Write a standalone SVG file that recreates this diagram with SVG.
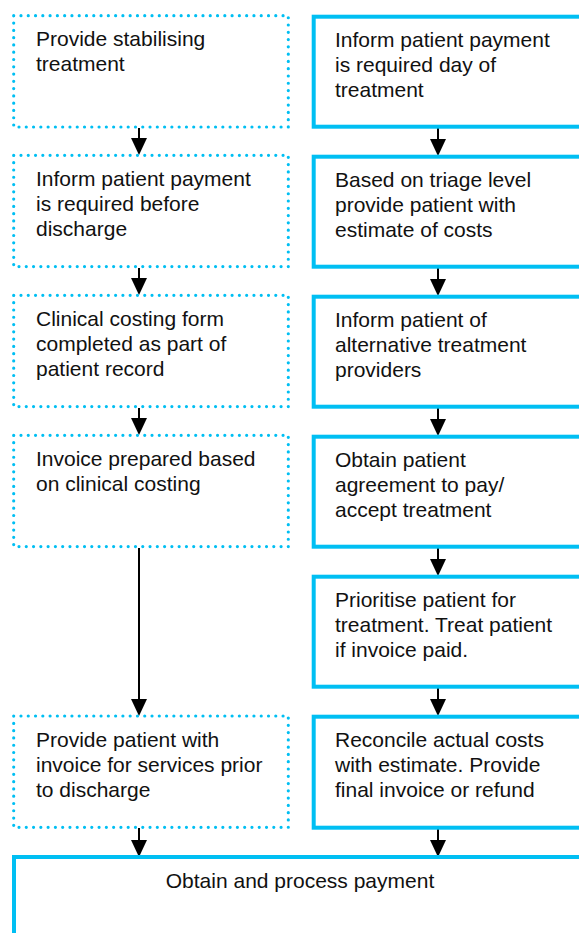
<svg xmlns="http://www.w3.org/2000/svg" width="579" height="933" viewBox="0 0 579 933">
<style>
.dot{fill:none;stroke:#00BFF3;stroke-width:3.2;stroke-linecap:round;stroke-dasharray:0 7.28}
.sol{fill:none;stroke:#00BFF3;stroke-width:4}
text{font-family:"Liberation Sans",Arial,sans-serif;font-size:21px;fill:#111}
.ln{stroke:#000;stroke-width:2;fill:none}
.hd{fill:#000}
</style>
<rect width="579" height="933" fill="#fff"/>
<g id="connectors">
<line class="ln" x1="139" y1="128" x2="139" y2="144"/>
<path class="hd" d="M131,138 L147,138 L139,155 Z"/>
<line class="ln" x1="139" y1="268" x2="139" y2="284"/>
<path class="hd" d="M131,278 L147,278 L139,295 Z"/>
<line class="ln" x1="139" y1="408" x2="139" y2="424"/>
<path class="hd" d="M131,418 L147,418 L139,435 Z"/>
<line class="ln" x1="139" y1="548" x2="139" y2="705"/>
<path class="hd" d="M131,699 L147,699 L139,716 Z"/>
<line class="ln" x1="139" y1="828" x2="139" y2="846"/>
<path class="hd" d="M131,840 L147,840 L139,857 Z"/>
<line class="ln" x1="438" y1="128" x2="438" y2="146"/>
<path class="hd" d="M430,139 L446,139 L438,156 Z"/>
<line class="ln" x1="438" y1="268" x2="438" y2="286"/>
<path class="hd" d="M430,279 L446,279 L438,296 Z"/>
<line class="ln" x1="438" y1="408" x2="438" y2="426"/>
<path class="hd" d="M430,419 L446,419 L438,436 Z"/>
<line class="ln" x1="438" y1="548" x2="438" y2="566"/>
<path class="hd" d="M430,559 L446,559 L438,576 Z"/>
<line class="ln" x1="438" y1="688" x2="438" y2="706"/>
<path class="hd" d="M430,699 L446,699 L438,716 Z"/>
<line class="ln" x1="438" y1="829" x2="438" y2="847"/>
<path class="hd" d="M430,840 L446,840 L438,857 Z"/>
</g>
<g id="L1"><rect class="dot" x="13.7" y="15.7" width="274.6" height="111.3"/>
<text x="36" y="46">Provide stabilising</text><text x="36" y="71">treatment</text></g>
<g id="L2"><rect class="dot" x="13.7" y="155.3" width="274.6" height="111.3"/>
<text x="36" y="186">Inform patient payment</text><text x="36" y="211">is required before</text><text x="36" y="236">discharge</text></g>
<g id="L3"><rect class="dot" x="13.7" y="295.3" width="274.6" height="111.3"/>
<text x="36" y="326">Clinical costing form</text><text x="36" y="351">completed as part of</text><text x="36" y="376">patient record</text></g>
<g id="L4"><rect class="dot" x="13.7" y="435.3" width="274.6" height="111.3"/>
<text x="36" y="466">Invoice prepared based</text><text x="36" y="491">on clinical costing</text></g>
<g id="L5"><rect class="dot" x="13.7" y="716" width="274.6" height="111.3"/>
<text x="36" y="747">Provide patient with</text><text x="36" y="772">invoice for services prior</text><text x="36" y="797">to discharge</text></g>
<g id="R1"><rect class="sol" x="313.7" y="16.7" width="300" height="110"/>
<text x="335" y="47">Inform patient payment</text><text x="335" y="72">is required day of</text><text x="335" y="97">treatment</text></g>
<g id="R2"><rect class="sol" x="313.7" y="156.7" width="300" height="110"/>
<text x="335" y="187">Based on triage level</text><text x="335" y="212">provide patient with</text><text x="335" y="237">estimate of costs</text></g>
<g id="R3"><rect class="sol" x="313.7" y="296.7" width="300" height="110"/>
<text x="335" y="327">Inform patient of</text><text x="335" y="352">alternative treatment</text><text x="335" y="377">providers</text></g>
<g id="R4"><rect class="sol" x="313.7" y="436.7" width="300" height="110"/>
<text x="335" y="467">Obtain patient</text><text x="335" y="492">agreement to pay/</text><text x="335" y="517">accept treatment</text></g>
<g id="R5"><rect class="sol" x="313.7" y="576.7" width="300" height="110"/>
<text x="335" y="607">Prioritise patient for</text><text x="335" y="632">treatment. Treat patient</text><text x="335" y="657">if invoice paid.</text></g>
<g id="R6"><rect class="sol" x="313.7" y="716.7" width="300" height="111"/>
<text x="335" y="747">Reconcile actual costs</text><text x="335" y="772">with estimate. Provide</text><text x="335" y="797">final invoice or refund</text></g>
<g id="B"><rect class="sol" x="14" y="857" width="600" height="120"/>
<text x="300" y="888" text-anchor="middle">Obtain and process payment</text></g>
</svg>
